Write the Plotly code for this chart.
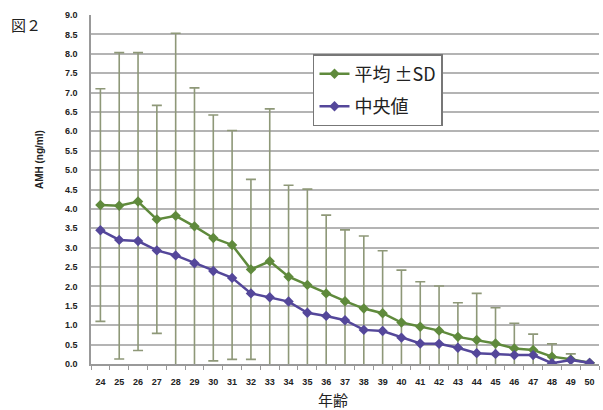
import plotly.graph_objects as go

ages = list(range(24, 51))
mean_vals = [4.10, 4.08, 4.19, 3.73, 3.82, 3.55, 3.25, 3.07, 2.44, 2.65, 2.25, 2.04, 1.82,
             1.62, 1.43, 1.31, 1.07, 0.96, 0.86, 0.70, 0.62, 0.53, 0.40, 0.36, 0.19, 0.12, 0.03]
upper_vals = [7.10, 8.03, 8.03, 6.67, 8.53, 7.12, 6.42, 6.02, 4.76, 6.58, 4.61, 4.51, 3.84,
              3.46, 3.30, 2.92, 2.42, 2.12, 2.01, 1.58, 1.82, 1.45, 1.05, 0.77, 0.52, 0.26, 0.03]
median_vals = [3.45, 3.20, 3.17, 2.93, 2.80, 2.60, 2.40, 2.22, 1.82, 1.72, 1.61, 1.32, 1.24,
               1.13, 0.88, 0.85, 0.68, 0.53, 0.52, 0.42, 0.28, 0.26, 0.23, 0.23, 0.02, 0.10, 0.03]
sd_vals = [round(u - m, 2) for u, m in zip(upper_vals, mean_vals)]
y_ticks = [i * 0.5 for i in range(19)]

GREEN = "#5f8a3c"
PURPLE = "#54479a"
ERR = "#8e9878"

fig = go.Figure()
fig.add_trace(go.Scatter(
    x=ages, y=mean_vals, mode="lines+markers", name="平均 ±SD", legendgroup="a",
    line=dict(color=GREEN, width=2.5),
    marker=dict(symbol="diamond", size=8, color=GREEN),
    error_y=dict(type="data", array=sd_vals, symmetric=True, color=ERR, thickness=1.6, width=5),
))
fig.add_trace(go.Scatter(
    x=ages, y=median_vals, mode="lines+markers", name="中央値", legendgroup="b",
    line=dict(color=PURPLE, width=2.5),
    marker=dict(symbol="diamond", size=8, color=PURPLE),
))

fig.update_layout(
    width=603, height=410,
    margin=dict(l=91, r=4, t=15, b=46),
    paper_bgcolor="white", plot_bgcolor="white",
    font=dict(family="Noto Sans CJK JP, Liberation Sans", color="#222"),
    showlegend=True,
    legend=dict(
        x=0.437, y=0.888, xanchor="left", yanchor="top",
        bgcolor="white", bordercolor="#777", borderwidth=1.5,
        font=dict(size=18, family="Noto Sans CJK JP", color="#222"),
        itemwidth=30, tracegroupgap=6,
    ),
    xaxis=dict(
        range=[23.5, 50.5], tickvals=ages, ticktext=[str(a) for a in ages],
        showgrid=False, zeroline=False,
        showline=True, linecolor="#999", linewidth=1.5,
        ticks="", ticklabelstandoff=8,
        tickfont=dict(size=9, family="Liberation Sans", weight="bold", color="#222"),
        minor=dict(tickvals=[a - 0.5 for a in ages] + [50.5], ticks="outside", ticklen=4,
                   tickcolor="#999", showgrid=False),
    ),
    yaxis=dict(
        range=[0, 9], tickvals=y_ticks, ticktext=[f"{v:.1f}" for v in y_ticks],
        showgrid=True, gridcolor="#b4b4b4", gridwidth=1.5, zeroline=False,
        showline=True, linecolor="#999", linewidth=1.5,
        ticks="", ticklabelstandoff=10,
        tickfont=dict(size=9, family="Liberation Sans", weight="bold", color="#222"),
    ),
    annotations=[
        dict(text="AMH (ng/ml)", x=-0.1, y=0.585, xref="paper", yref="paper", textangle=-90,
             xanchor="center", yanchor="middle", showarrow=False,
             font=dict(size=10, family="Liberation Sans", weight="bold", color="#222")),
        dict(text="年齢", x=0.476, y=-0.103, xref="paper", yref="paper",
             xanchor="center", yanchor="middle", showarrow=False,
             font=dict(size=15, family="Noto Sans CJK JP", color="#222")),
        dict(text="図２", x=-0.128, y=0.974, xref="paper", yref="paper",
             xanchor="center", yanchor="middle", showarrow=False,
             font=dict(size=15, family="Noto Sans CJK JP", color="#222")),
    ],
)

fig.write_html("out.html", config={"displayModeBar": False},
               post_script="document.body.style.margin='0';document.body.style.overflow='hidden';")
